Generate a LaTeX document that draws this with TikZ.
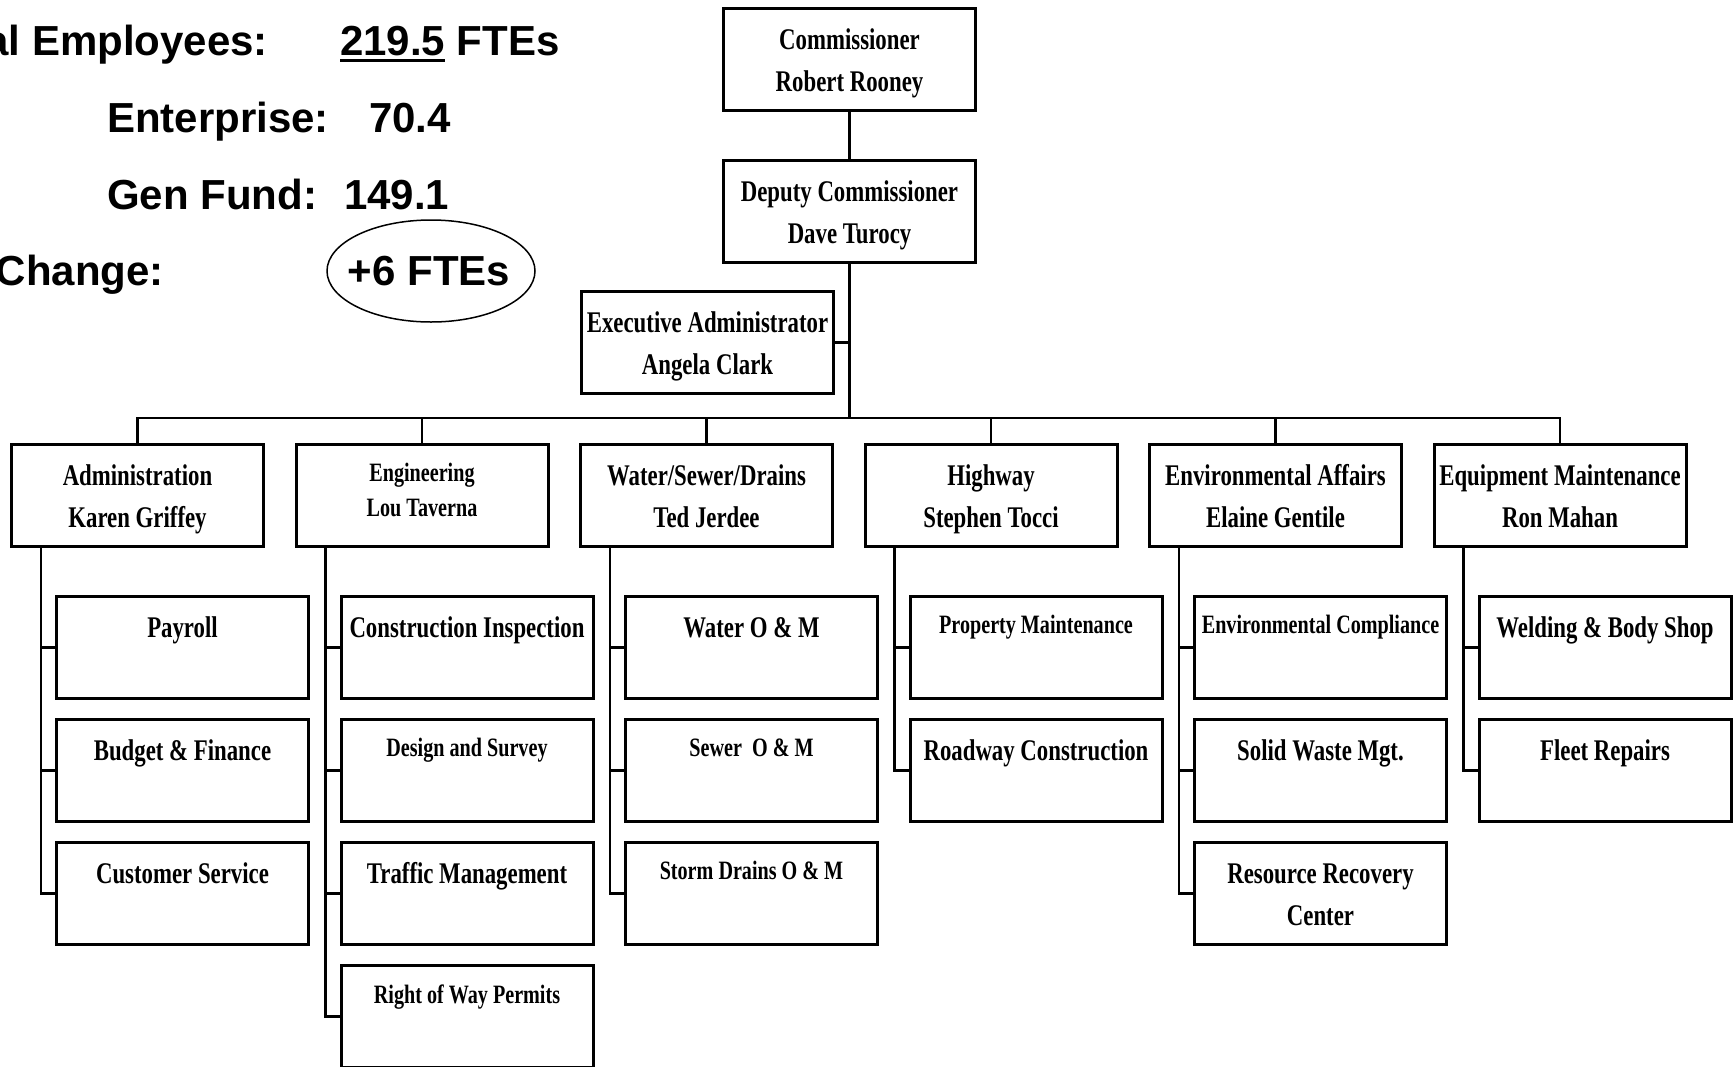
\documentclass[tikz,border=0pt]{standalone}
\usepackage{fontspec}
\newfontfamily\boxfont{Liberation Serif}[FakeStretch=0.76]
\newfontfamily\ftefont{Liberation Sans}
\usetikzlibrary{positioning, shapes.geometric}
% primera linea de cada caja (altura fija para bajar el texto)
\newcommand{\topline}{\rule{0pt}{34pt}}
\newcommand{\toplinesmall}{\rule{0pt}{18pt}}
% subrayado grueso
\newcommand{\thickul}[1]{\setbox0\hbox{#1}\rlap{\rule[-7pt]{\wd0}{2.8pt}}\box0\relax}

\begin{document}
\begin{tikzpicture}[
            x=1pt, y=1pt,
            font=\boxfont\bfseries\fontsize{30}{42}\selectfont,
            box/.style={draw, line width=3pt, minimum width=252pt, minimum height=102pt, inner sep=0pt, align=center},
            smallbox/.style={box, font=\boxfont\bfseries\fontsize{26.5}{35}\selectfont},
            link/.style={line width=2.5pt},
            fte/.style={font=\ftefont\bfseries\fontsize{42}{50}\selectfont, anchor=base west, inner sep=0pt}
        ]
        \useasboundingbox (0,0) rectangle (1736,-1066);

        % --- Resumen de personal ---
        \node[fte, anchor=base east] (totlabel) at (268,-55) {al Employees:};
        \node[fte] (totval) at (340,-55) {\thickul{219.5} FTEs};
        \node[fte] (entlabel) at (107,-132) {Enterprise:};
        \node[fte] (entval) at (369,-132) {70.4};
        \node[fte] (genlabel) at (107,-209) {Gen Fund:};
        \node[fte] (genval) at (344,-209) {149.1};
        \node[fte, anchor=base east] (chglabel) at (164,-285) {Change:};
        \node[font=\ftefont\bfseries\fontsize{42}{50}\selectfont, inner sep=0pt] (chgval) at (429,-271) {+6 FTEs};
        \draw[line width=1.5pt] (431,-271) ellipse [x radius=104, y radius=51];

        % --- Direccion ---
        \node[box, anchor=north west] (comm) at (722,-7) {\topline Commissioner\\\strut Robert Rooney};
        \node[box, below=47pt of comm] (deputy) {\topline Deputy Commissioner\\\strut Dave Turocy};
        \node[box, anchor=north west] (exec) at (580,-290) {\topline Executive Administrator\\\strut Angela Clark};

        % --- Departamentos ---
        \node[box, anchor=north west] (admin) at (10,-443) {\topline Administration\\\strut Karen Griffey};
        \node[smallbox, right=29.5pt of admin] (eng) {\toplinesmall Engineering\\\strut Lou Taverna};
        \node[box, right=29.5pt of eng] (water) {\topline Water/Sewer/Drains\\\strut Ted Jerdee};
        \node[box, right=29.5pt of water] (highway) {\topline Highway\\\strut Stephen Tocci};
        \node[box, right=29.5pt of highway] (env) {\topline Environmental Affairs\\\strut Elaine Gentile};
        \node[box, right=29.5pt of env] (equip) {\topline Equipment Maintenance\\\strut Ron Mahan};

        % --- Secciones ---
        \node[box, below=47pt of admin.south west, anchor=north west, xshift=45pt] (payroll) {\topline Payroll\\\strut};
        \node[box, below=18pt of payroll] (budget) {\topline Budget \& Finance\\\strut};
        \node[box, below=18pt of budget] (custsvc) {\topline Customer Service\\\strut};

        \node[box, below=47pt of eng.south west, anchor=north west, xshift=45pt] (inspect) {\topline Construction Inspection\\\strut};
        \node[smallbox, below=18pt of inspect] (design) {\toplinesmall Design and Survey\\\strut};
        \node[box, below=18pt of design] (traffic) {\topline Traffic Management\\\strut};
        \node[smallbox, below=18pt of traffic] (permits) {\toplinesmall Right of Way Permits\\\strut};

        \node[box, below=47pt of water.south west, anchor=north west, xshift=45pt] (waterom) {\topline Water O \& M\\\strut};
        \node[smallbox, below=18pt of waterom] (sewerom) {\toplinesmall Sewer\ \ O \& M\\\strut};
        \node[smallbox, below=18pt of sewerom] (stormom) {\toplinesmall Storm Drains O \& M\\\strut};

        \node[smallbox, below=47pt of highway.south west, anchor=north west, xshift=45pt] (property) {\toplinesmall Property Maintenance\\\strut};
        \node[box, below=18pt of property] (roadway) {\topline Roadway Construction\\\strut};

        \node[smallbox, below=47pt of env.south west, anchor=north west, xshift=45pt] (compliance) {\toplinesmall Environmental Compliance\\\strut};
        \node[box, below=18pt of compliance] (waste) {\topline Solid Waste Mgt.\\\strut};
        \node[box, below=18pt of waste] (recovery) {\topline Resource Recovery\\\strut Center};

        \node[box, below=47pt of equip.south west, anchor=north west, xshift=45pt] (welding) {\topline Welding \& Body Shop\\\strut};
        \node[box, below=18pt of welding] (fleet) {\topline Fleet Repairs\\\strut};

        % --- Lineas de mando ---
        \coordinate[above=25pt of admin.north] (bus);
        \draw[link] (comm) -- (deputy);
        \draw[link] (deputy.south) -- (deputy.south |- bus);
        \draw[link] (exec.east) -- (exec.east -| deputy.south);
        \draw[link] (admin.north) -- (bus) -| (equip.north);
        \draw[link] (eng.north) -- (eng.north |- bus);
        \draw[link] (water.north) -- (water.north |- bus);
        \draw[link] (highway.north) -- (highway.north |- bus);
        \draw[link] (env.north) -- (env.north |- bus);

        % --- Lineas a secciones ---
        \coordinate[right=31pt of admin.south west] (adminspine);
        \coordinate[right=31pt of eng.south west] (engspine);
        \coordinate[right=31pt of water.south west] (waterspine);
        \coordinate[right=31pt of highway.south west] (highwayspine);
        \coordinate[right=31pt of env.south west] (envspine);
        \coordinate[right=31pt of equip.south west] (equipspine);

        \draw[link] (adminspine) |- (custsvc.west)
            (adminspine |- payroll.west) -- (payroll.west)
            (adminspine |- budget.west) -- (budget.west);
        \draw[link] (engspine) |- (permits.west)
            (engspine |- inspect.west) -- (inspect.west)
            (engspine |- design.west) -- (design.west)
            (engspine |- traffic.west) -- (traffic.west);
        \draw[link] (waterspine) |- (stormom.west)
            (waterspine |- waterom.west) -- (waterom.west)
            (waterspine |- sewerom.west) -- (sewerom.west);
        \draw[link] (highwayspine) |- (roadway.west)
            (highwayspine |- property.west) -- (property.west);
        \draw[link] (envspine) |- (recovery.west)
            (envspine |- compliance.west) -- (compliance.west)
            (envspine |- waste.west) -- (waste.west);
        \draw[link] (equipspine) |- (fleet.west)
            (equipspine |- welding.west) -- (welding.west);

        \end{tikzpicture}
\end{document}
